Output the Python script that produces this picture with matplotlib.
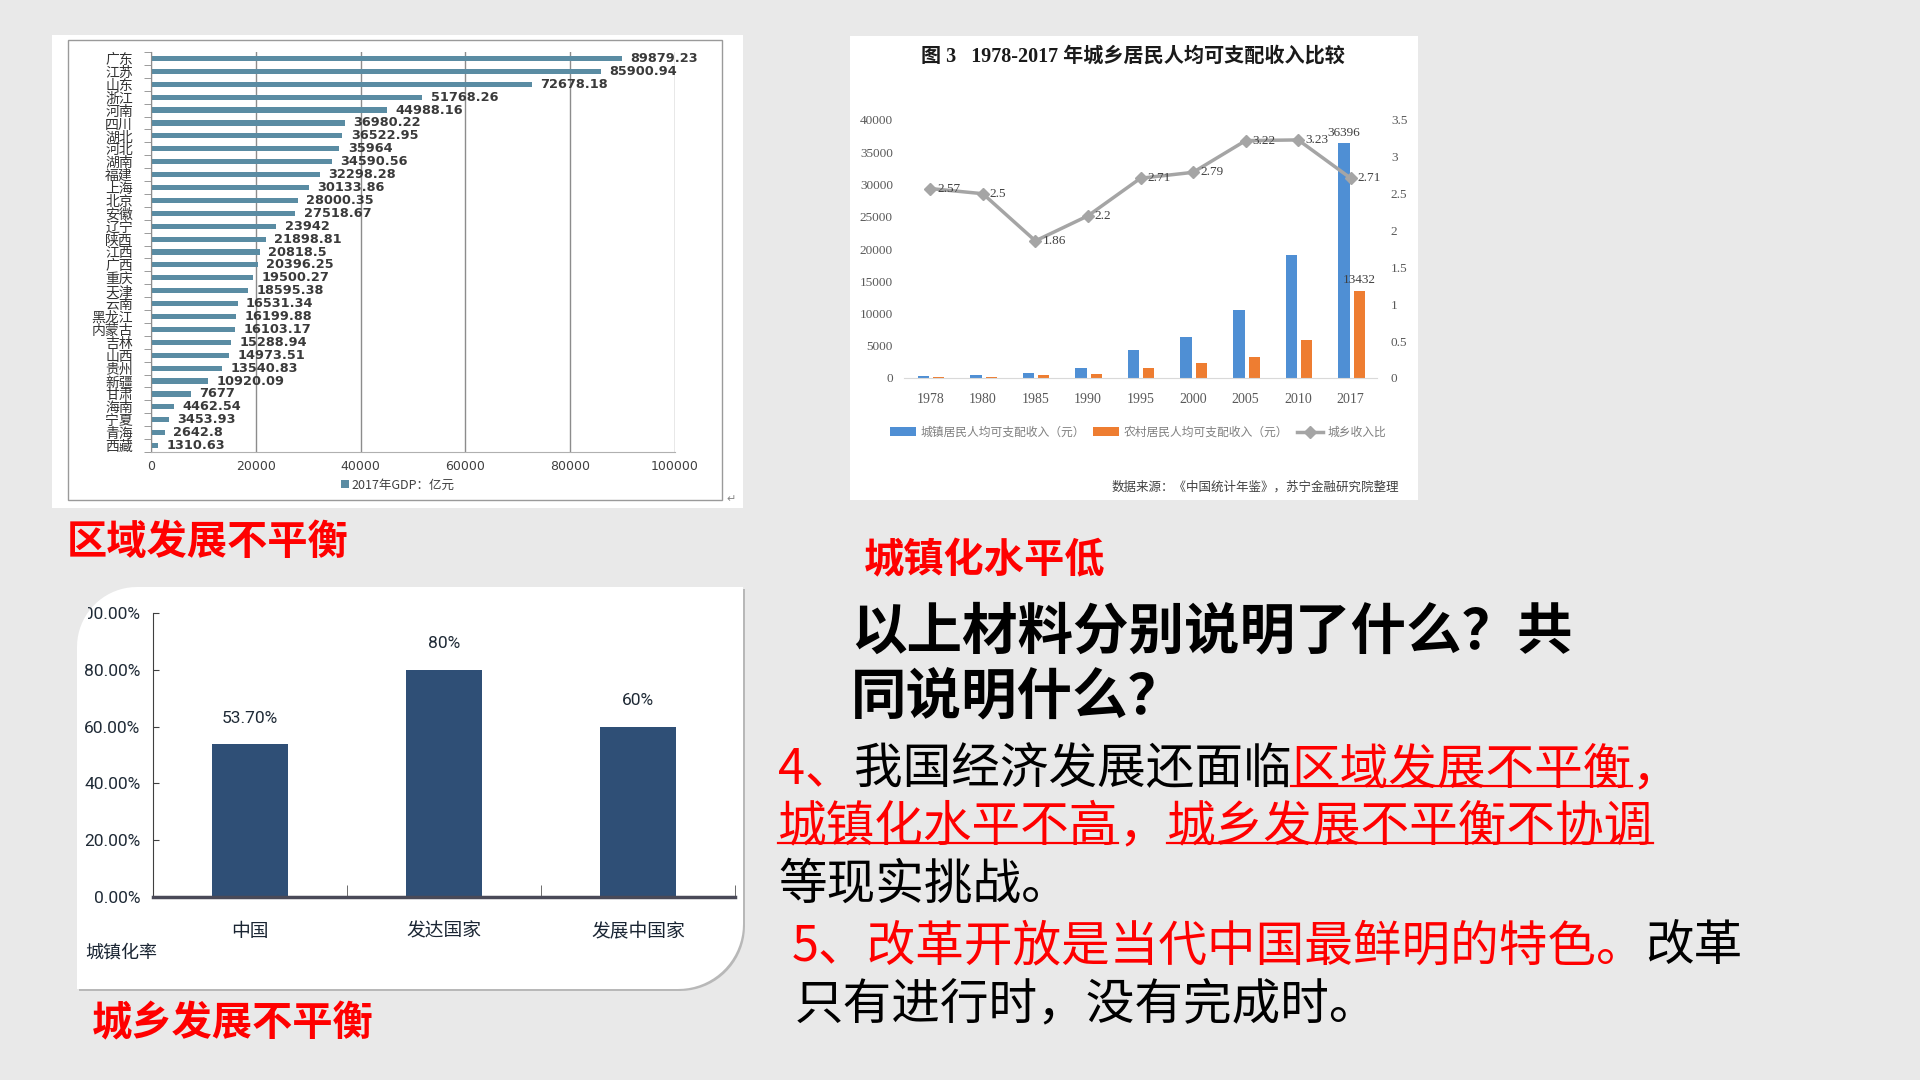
import numpy as np
import matplotlib
matplotlib.use('Agg')
import matplotlib.pyplot as plt
import matplotlib.transforms as mtransforms
from matplotlib.patches import Rectangle, PathPatch
from matplotlib.path import Path
from matplotlib.lines import Line2D

plt.rcParams['font.family'] = ['Noto Sans CJK SC', 'DejaVu Sans']
plt.rcParams['axes.unicode_minus'] = False

# 图1：2017年各省GDP（亿元）
provinces = ['广东', '江苏', '山东', '浙江', '河南', '四川', '湖北', '河北', '湖南', '福建',
             '上海', '北京', '安徽', '辽宁', '陕西', '江西', '广西', '重庆', '天津', '云南',
             '黑龙江', '内蒙古', '吉林', '山西', '贵州', '新疆', '甘肃', '海南', '宁夏', '青海', '西藏']
gdp_2017 = [89879.23, 85900.94, 72678.18, 51768.26, 44988.16, 36980.22, 36522.95, 35964,
            34590.56, 32298.28, 30133.86, 28000.35, 27518.67, 23942, 21898.81, 20818.5,
            20396.25, 19500.27, 18595.38, 16531.34, 16199.88, 16103.17, 15288.94, 14973.51,
            13540.83, 10920.09, 7677, 4462.54, 3453.93, 2642.8, 1310.63]
gdp_ticks = [0, 20000, 40000, 60000, 80000, 100000]

# 图2：城乡居民人均可支配收入
years = ['1978', '1980', '1985', '1990', '1995', '2000', '2005', '2010', '2017']
urban_income = [343, 478, 739, 1510, 4283, 6280, 10493, 19109, 36396]
rural_income = [134, 191, 398, 686, 1578, 2253, 3255, 5919, 13432]
income_ratio = [2.57, 2.5, 1.86, 2.2, 2.71, 2.79, 3.22, 3.23, 2.71]
left_ticks = [0, 5000, 10000, 15000, 20000, 25000, 30000, 35000, 40000]
right_ticks = [0, 0.5, 1, 1.5, 2, 2.5, 3, 3.5]

# 图3：城镇化率
regions = ['中国', '发达国家', '发展中国家']
urban_rate = [0.537, 0.80, 0.60]
rate_labels = ['53.70%', '80%', '60%']
rate_ticks = [0, 0.2, 0.4, 0.6, 0.8, 1.0]

BG = '#e9e9e9'
W, H = 1920, 1080
fig = plt.figure(figsize=(W / 100, H / 100), dpi=100, facecolor=BG)
# 像素坐标（左上角为原点）
px = mtransforms.Affine2D().scale(1 / 100, -1 / 100).translate(0, H / 100) + fig.dpi_scale_trans


def box(x0, y0, x1, y1):
    a = fig.add_axes([x0 / W, 1 - y1 / H, (x1 - x0) / W, (y1 - y0) / H])
    a.set_facecolor('none')
    return a


def rect(x0, y0, x1, y1, **kw):
    r = Rectangle((x0, y0), x1 - x0, y1 - y0, transform=px, **kw)
    fig.add_artist(r)
    return r


# ---------------- 图1 ----------------
rect(52, 35, 743, 508, fc='white', ec='none', zorder=-2)
rect(68, 40, 722, 500, fc='none', ec='#9a9a9a', lw=1, zorder=-1)

ax1 = box(151, 52, 675, 452)
y = np.arange(len(provinces))
ax1.barh(y, gdp_2017, height=0.4, color='#5a8ca3', label='2017年GDP：亿元', zorder=2)
ax1.set_ylim(len(provinces) - 0.5, -0.5)
ax1.set_xlim(0, 100000)
ax1.set_xticks(gdp_ticks)
ax1.set_xticklabels([str(t) for t in gdp_ticks], family=['DejaVu Sans'])
ax1.grid(axis='x', color='#8c8c8c', lw=1)
ax1.set_axisbelow(True)
ax1.set_yticks(y)
ax1.set_yticklabels(provinces, fontsize=10, color='#333333')
ax1.set_yticks(np.arange(-0.5, len(provinces)), minor=True)
ax1.tick_params(axis='y', which='major', length=0, pad=13)
ax1.tick_params(axis='y', which='minor', length=5, color='#8c8c8c')
ax1.tick_params(axis='x', length=0, pad=6, labelsize=9, labelcolor='#404040')
for s in ['top', 'right']:
    ax1.spines[s].set_visible(False)
ax1.spines['left'].set_color('#8c8c8c')
ax1.spines['bottom'].set_color('#b0b0b0')
for yi, v in zip(y, gdp_2017):
    lab = f'{v:.2f}'.rstrip('0').rstrip('.')
    ax1.annotate(lab, (v, yi), xytext=(6, 0), textcoords='offset points', va='center',
                 fontsize=9.3, fontweight='bold', color='#3a3a3a', family=['DejaVu Sans'])
ax1.legend(loc='center', bbox_to_anchor=(0.471, -0.0825), frameon=False, fontsize=9,
           handlelength=0.6, handleheight=0.6, handletextpad=0.2, labelcolor='#404040')
fig.text(731, 499, '↵', transform=px, fontsize=8, color='#888888', ha='center', va='center',
         family=['DejaVu Sans'])

# ---------------- 图2 ----------------
rect(850, 36, 1418, 500, fc='white', ec='none', zorder=-2)
serif = ['Liberation Serif', 'Noto Sans CJK SC']
fig.text(1133, 57, '图 3   1978-2017 年城乡居民人均可支配收入比较', transform=px, ha='center',
         va='center', fontsize=14.5, fontweight='bold', family=serif, color='#1a1a1a')

ax2 = box(904, 120, 1377, 378)
x = np.arange(len(years))
ax2.bar(x - 0.13, urban_income, 0.22, color='#4f8fd4', label='城镇居民人均可支配收入（元）')
ax2.bar(x + 0.16, rural_income, 0.21, color='#ee7d31', label='农村居民人均可支配收入（元）')
ax2.set_xlim(-0.5, len(years) - 0.5)
ax2.set_ylim(0, 40000)
ax2.set_xticks(x)
ax2.set_xticklabels(years, family=serif, fontsize=10, color='#595959')
ax2.set_yticks(left_ticks)
ax2.set_yticklabels([str(t) for t in left_ticks], family=serif, fontsize=9.5, color='#595959')
ax2.tick_params(length=0)
ax2.tick_params(axis='x', pad=11)
ax2.tick_params(axis='y', pad=8)
for s in ['top', 'right', 'left']:
    ax2.spines[s].set_visible(False)
ax2.spines['bottom'].set_color('#d9d9d9')
ax2.annotate(str(urban_income[-1]), (x[-1] - 0.13, urban_income[-1]), xytext=(0, 3),
             textcoords='offset points', ha='center', va='bottom', family=serif,
             fontsize=9.5, color='#404040')
ax2.annotate(str(rural_income[-1]), (x[-1] + 0.16, rural_income[-1]), xytext=(0, 4),
             textcoords='offset points', ha='center', va='bottom', family=serif,
             fontsize=9.5, color='#404040')

ax2r = ax2.twinx()
ax2r.plot(x, income_ratio, color='#a5a5a5', lw=2.5, marker='D', ms=6, label='城乡收入比')
ax2r.set_ylim(0, 3.5)
ax2r.set_yticks(right_ticks)
ax2r.set_yticklabels([f'{t:g}' for t in right_ticks], family=serif, fontsize=9.5, color='#595959')
ax2r.tick_params(length=0, pad=10)
for s in ax2r.spines.values():
    s.set_visible(False)
for i, v in enumerate(income_ratio):
    ax2r.annotate(f'{v:g}', (i, v), xytext=(5, 0), textcoords='offset points', ha='left',
                  va='center', family=serif, fontsize=9.5, color='#404040')

h1, l1 = ax2.get_legend_handles_labels()
h2, l2 = ax2r.get_legend_handles_labels()
ax2r.legend(h1 + h2, l1 + l2, ncol=3, loc='center', bbox_to_anchor=(0.495, -0.21), frameon=False,
            fontsize=8.5, handlelength=2.2, handletextpad=0.4, columnspacing=0.7,
            labelcolor='#7f7f7f')
fig.text(1399, 487, '数据来源：《中国统计年鉴》，苏宁金融研究院整理', transform=px, ha='right',
         va='center', fontsize=9, color='#404040')

# ---------------- 图3 ----------------
x0, y0, x1, y1, r1, r2 = 77, 587, 743, 989, 60, 65
a1 = np.linspace(np.pi, 1.5 * np.pi, 20)
a2 = np.linspace(0, 0.5 * np.pi, 20)
verts = [(x0 + r1 + r1 * np.cos(a), y0 + r1 + r1 * np.sin(a)) for a in a1]
verts += [(x1, y0)]
verts += [(x1 - r2 + r2 * np.cos(a), y1 - r2 + r2 * np.sin(a)) for a in a2]
verts += [(x0, y1), verts[0]]
shadow = PathPatch(Path(np.array(verts) + 2), transform=px, fc='#b8b8b8', ec='none', zorder=-3)
panel3 = PathPatch(Path(np.array(verts)), transform=px, fc='white', ec='none', zorder=-2)
fig.add_artist(shadow)
fig.add_artist(panel3)

ax3 = box(153, 613, 735, 897)
xs = np.arange(len(regions))
ax3.bar(xs, urban_rate, 0.39, color='#2f4f76')
ax3.set_xlim(-0.5, len(regions) - 0.5)
ax3.set_ylim(0, 1.0)
narrow = ['Roboto', 'DejaVu Sans']
ax3.set_yticks(rate_ticks)
ax3.set_yticklabels([f'{t * 100:.2f}%' for t in rate_ticks], family=narrow, fontsize=12.5,
                    color='#1f2a36')
ax3.tick_params(axis='y', direction='in', length=4, pad=9, color='#404040')
ax3.set_xticks(xs)
ax3.set_xticklabels(regions, fontsize=13.5, color='#1a2533')
ax3.set_xticks([0.5, 1.5, 2.5], minor=True)
ax3.tick_params(axis='x', which='major', length=0, pad=17)
ax3.tick_params(axis='x', which='minor', direction='in', length=9, color='#555555')
for s in ['top', 'right']:
    ax3.spines[s].set_visible(False)
ax3.spines['left'].set_color('#404040')
ax3.spines['bottom'].set_color('#4a4a58')
ax3.spines['bottom'].set_linewidth(2.5)
# 顶部刻度标签被圆角裁掉一部分
clip = mtransforms.TransformedBbox(mtransforms.Bbox([[88, 605], [743, 989]]), px)
top_lbl = ax3.get_yticklabels()[-1]
top_lbl.set_clip_box(clip)
top_lbl.set_clip_on(True)
for i, (v, lab) in enumerate(zip(urban_rate, rate_labels)):
    ax3.annotate(lab, (i, v), xytext=(0, 19), textcoords='offset points', ha='center',
                 va='center', family=narrow, fontsize=12.5, color='#1f2a36')
fig.text(121, 953, '城镇化率', transform=px, ha='center', va='center', fontsize=13,
         color='#1a2533')

# ---------------- 红色标题 ----------------
for s, xx, yy in [('区域发展不平衡', 67, 542), ('城镇化水平低', 864, 561), ('城乡发展不平衡', 92, 1024)]:
    fig.text(xx, yy, s, transform=px, ha='left', va='center', fontsize=29, fontweight='bold',
             color='#ff0000')

# ---------------- 右下文字 ----------------
fig.text(851, 633, '以上材料分别说明了什么？共', transform=px, ha='left', va='center',
         fontsize=40, fontweight='bold', color='black')
fig.text(851, 699, '同说明什么？', transform=px, ha='left', va='center',
         fontsize=40, fontweight='bold', color='black')

r = fig.canvas.get_renderer()


def advance(s, size):
    # 用哨兵字符测量字符串的前进宽度
    t1 = fig.text(0, 0, s + '国', fontsize=size)
    t2 = fig.text(0, 0, '国', fontsize=size)
    w = t1.get_window_extent(r).width - t2.get_window_extent(r).width
    t1.remove()
    t2.remove()
    return w


def rich_line(x, yc, pieces, size=35):
    fpx = size * 100 / 72
    base = yc + 0.38 * fpx
    for s, c, under in pieces:
        fig.text(x, base, s, transform=px, ha='left', va='baseline', fontsize=size, color=c)
        w = advance(s, size)
        if under:
            fig.add_artist(Line2D([x, x + w], [base + 3, base + 3], transform=px, color=c, lw=1.6))
        x += w


RED = '#ff0000'
rich_line(778, 765, [('4、', RED, False), ('我国经济发展还面临', 'black', False),
                     ('区域发展不平衡', RED, True), ('，', RED, False)])
rich_line(778, 822, [('城镇化水平不高', RED, True), ('，', RED, False),
                     ('城乡发展不平衡不协调', RED, True)])
rich_line(778, 880, [('等现实挑战。', 'black', False)])
rich_line(792, 942, [('5、改革开放是当代中国最鲜明的特色。', RED, False), ('改革', 'black', False)])
rich_line(795, 1000, [('只有进行时，没有完成时。', 'black', False)])

fig.savefig('out.png', dpi=100, facecolor=BG)
